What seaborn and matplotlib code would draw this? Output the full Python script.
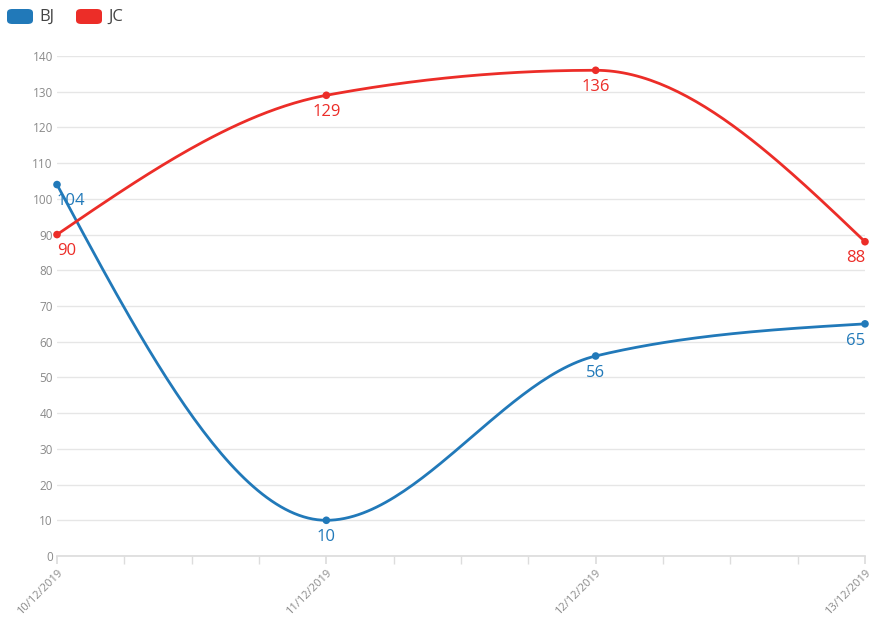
import numpy as np
import pandas as pd
import matplotlib
matplotlib.use("Agg")
import matplotlib.pyplot as plt
from matplotlib.patches import FancyBboxPatch
from matplotlib.ticker import MultipleLocator
import seaborn as sns

# données
dates = ["10/12/2019", "11/12/2019", "12/12/2019", "13/12/2019"]
bj = [104, 10, 56, 65]
jc = [90, 129, 136, 88]
series_names = ["BJ", "JC"]
colors = {"BJ": "#2179b9", "JC": "#ec2d28"}
y_ticks = list(range(0, 141, 10))


def monotone_x(xs, ys, n=60):
    # courbe lissée type d3.curveMonotoneX (rendu seulement)
    xs = np.asarray(xs, float)
    ys = np.asarray(ys, float)
    h = np.diff(xs)
    s = np.diff(ys) / h
    t = np.zeros(len(xs))
    for i in range(1, len(xs) - 1):
        p = (s[i - 1] * h[i] + s[i] * h[i - 1]) / (h[i - 1] + h[i])
        t[i] = (np.sign(s[i - 1]) + np.sign(s[i])) * min(abs(s[i - 1]), abs(s[i]), 0.5 * abs(p))
    t[0] = (3 * s[0] - t[1]) / 2
    t[-1] = (3 * s[-1] - t[-2]) / 2
    px, py = [], []
    u = np.linspace(0, 1, n)
    for i in range(len(xs) - 1):
        dx = h[i] / 3
        x0, x1, x2, x3 = xs[i], xs[i] + dx, xs[i + 1] - dx, xs[i + 1]
        y0, y1, y2, y3 = ys[i], ys[i] + dx * t[i], ys[i + 1] - dx * t[i + 1], ys[i + 1]
        b = [(1 - u) ** 3, 3 * (1 - u) ** 2 * u, 3 * (1 - u) * u ** 2, u ** 3]
        px.extend(b[0] * x0 + b[1] * x1 + b[2] * x2 + b[3] * x3)
        py.extend(b[0] * y0 + b[1] * y1 + b[2] * y2 + b[3] * y3)
    return np.array(px), np.array(py)


sns.set_theme(style="white")
plt.rcParams["font.family"] = ["Open Sans", "DejaVu Sans"]

fig = plt.figure(figsize=(8.72, 6.2), dpi=100)
ax = fig.add_axes([57 / 872, 64 / 620, 808 / 872, 500 / 620])

x_idx = np.arange(len(dates))
pts = pd.DataFrame({
    "x": np.tile(x_idx, 2),
    "y": bj + jc,
    "serie": np.repeat(series_names, len(dates)),
})

curves = []
for name, vals in zip(series_names, [bj, jc]):
    cx, cy = monotone_x(x_idx, vals)
    curves.append(pd.DataFrame({"x": cx, "y": cy, "serie": name}))
curves = pd.concat(curves, ignore_index=True)

sns.lineplot(data=curves, x="x", y="y", hue="serie", palette=colors, sort=False,
             estimator=None, linewidth=2, legend=False, ax=ax, zorder=3)
sns.scatterplot(data=pts, x="x", y="y", hue="serie", palette=colors, s=30,
                edgecolor="none", legend=False, ax=ax, zorder=4, clip_on=False)

# étiquettes de valeurs
for name, vals in zip(series_names, [bj, jc]):
    for i, v in enumerate(vals):
        ha = "left" if i == 0 else ("right" if i == len(vals) - 1 else "center")
        ax.annotate(str(v), (i, v), xytext=(0, -12), textcoords="offset points",
                    ha=ha, va="center", fontsize=12, color=colors[name], zorder=5)

ax.set_xlim(0, len(dates) - 1)
ax.set_ylim(0, 140)
ax.set_yticks(y_ticks)
ax.set_xticks(x_idx)
ax.set_xticklabels(dates, rotation=45, ha="right", rotation_mode="anchor")
ax.xaxis.set_minor_locator(MultipleLocator(0.25))
ax.set_xlabel("")
ax.set_ylabel("")
ax.grid(axis="y", color="#e6e6e6", linewidth=1)
ax.set_axisbelow(True)
for sp in ["top", "right", "left"]:
    ax.spines[sp].set_visible(False)
ax.spines["bottom"].set_color("#dddddd")
ax.tick_params(axis="y", length=0, labelsize=8.5, labelcolor="#8a8a8a", pad=3)
ax.tick_params(axis="x", which="both", length=6, color="#dddddd", bottom=True,
               labelsize=8, labelcolor="#8a8a8a", pad=2)

# légende
for k, (name, x0) in enumerate(zip(series_names, [7, 76])):
    box = FancyBboxPatch((x0 / 872, 1 - 24 / 620), 26 / 872, 15 / 620,
                         boxstyle="round,pad=0,rounding_size=0.006",
                         transform=fig.transFigure, facecolor=colors[name],
                         edgecolor="none")
    fig.patches.append(box)
    fig.text((x0 + 32) / 872, 1 - 17 / 620, name, ha="left", va="center",
             fontsize=12, color="#444444")

fig.savefig("out.png", dpi=100)
